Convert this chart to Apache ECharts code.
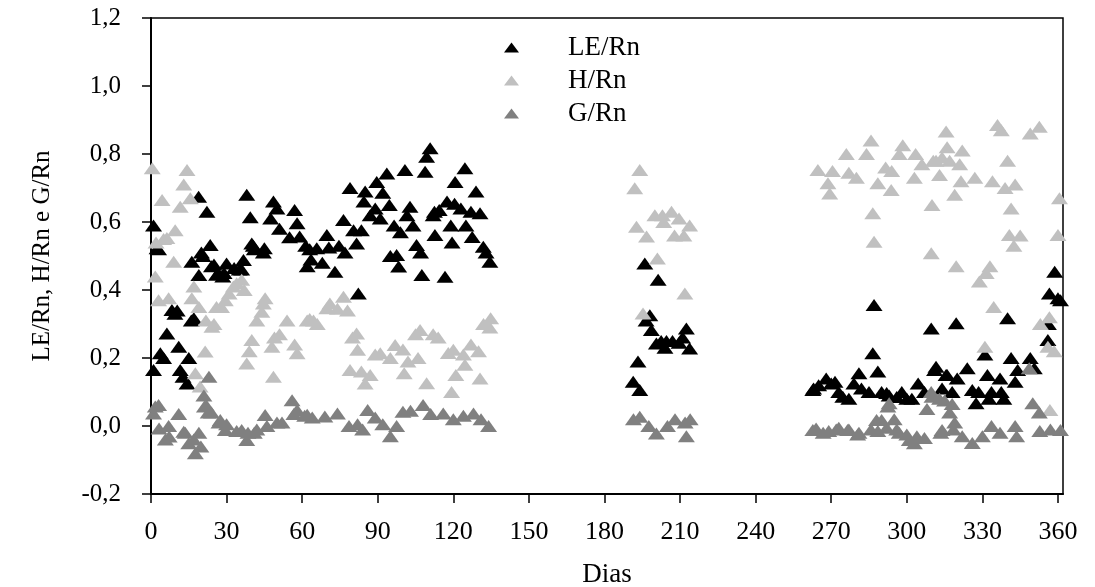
<!DOCTYPE html>
<html>
<head>
<meta charset="utf-8">
<script src="https://cdn.jsdelivr.net/npm/echarts@6/dist/echarts.min.js"></script>
<style>
  html, body { margin: 0; padding: 0; background: #fff; }
  #chart { width: 1095px; height: 587px; }
</style>
</head>
<body>
<div id="chart"></div>
<script>
// Daily energy partition ratios, [day of year, ratio]
const leRn = [
  [1,0.59],[1,0.165],[2.4,0.523],[3,0.52],[3.7,0.214],[5,0.2],[6.3,0.272],[8.3,0.341],[9.5,0.33],[10.4,0.34],
  [11,0.233],[11.6,0.165],[12.7,0.145],[14.3,0.125],[15,0.2],[16,0.31],[17,0.317],[16.2,0.483],[18.9,0.674],[19,0.444],
  [20,0.51],[20.6,0.5],[22.2,0.63],[23.5,0.532],[24,0.47],[25,0.475],[26,0.445],[26.7,0.45],[28.5,0.44],[29,0.45],
  [30,0.478],[33,0.465],[35,0.46],[36,0.46],[36.7,0.488],[38,0.68],[39.4,0.614],[40,0.537],[40.6,0.53],[41,0.52],
  [44.6,0.51],[45,0.523],[47.5,0.61],[48.6,0.66],[50,0.64],[51,0.58],[55,0.555],[57,0.635],[58,0.596],[59,0.557],
  [61.4,0.53],[62,0.47],[63,0.52],[63.5,0.49],[65.8,0.523],[68,0.48],[69.8,0.562],[70.6,0.525],[73,0.454],[74.6,0.53],
  [76.4,0.606],[77,0.51],[79,0.7],[80.4,0.576],[81.6,0.537],[82.3,0.39],[83.5,0.576],[84.5,0.66],[85,0.69],[87,0.62],
  [89,0.64],[89.6,0.718],[91,0.61],[92,0.686],[93.6,0.743],[94.6,0.65],[95,0.5],[96.5,0.59],[97.5,0.503],[98.3,0.469],
  [99,0.57],[100.8,0.753],[101.6,0.62],[102.8,0.645],[104,0.59],[105.4,0.532],[107,0.51],[107.5,0.444],[108.8,0.748],[109.4,0.792],
  [110.8,0.817],[112,0.62],[112.5,0.63],[112.7,0.562],[114.4,0.635],[116.7,0.439],[117.5,0.66],[119,0.59],[119.5,0.54],[120.7,0.718],
  [120.5,0.654],[123,0.64],[124.6,0.758],[125,0.59],[127,0.63],[127.5,0.556],[129,0.69],[130.6,0.626],[131.9,0.527],[133,0.51],
  [134.5,0.483],
  [191.4,0.13],[193.3,0.19],[194,0.106],[196,0.478],[196.5,0.31],[198,0.326],[198.6,0.282],[200.6,0.243],[201.3,0.43],[202.5,0.25],
  [204,0.23],[204.6,0.25],[207,0.25],[209.6,0.245],[211,0.26],[212.5,0.287],[213.8,0.228],
  [262.7,0.106],[263,0.11],[265,0.12],[268,0.14],[270,0.125],[271.5,0.13],[273,0.1],[274.6,0.086],[277,0.08],[279,0.125],
  [281,0.155],[282,0.11],[285,0.1],[286.5,0.214],[287,0.356],[288.5,0.16],[290,0.1],[292,0.097],[293,0.09],[296,0.085],
  [298,0.1],[300,0.08],[302,0.08],[304.5,0.125],[307,0.1],[309.7,0.287],[311,0.165],[311.6,0.174],[314,0.11],[315.6,0.15],
  [316,0.15],[318,0.1],[319.6,0.302],[320,0.14],[324,0.17],[326,0.106],[327.5,0.067],[328.5,0.1],[331,0.21],[332,0.15],
  [332.6,0.08],[333.6,0.1],[337,0.14],[337.5,0.1],[338.5,0.08],[340,0.317],[341.4,0.2],[343,0.13],[344,0.165],[349,0.2],
  [350.6,0.17],[356,0.253],[356.2,0.3],[356.6,0.39],[358.7,0.454],[360,0.376],[361,0.37]
];

const hRn = [
  [0.5,0.758],[1.7,0.44],[2,0.54],[3,0.37],[4.4,0.665],[5,0.55],[6.3,0.553],[7,0.376],[9,0.483],[9.6,0.576],
  [11.6,0.645],[13,0.71],[14.3,0.753],[15.6,0.67],[16.2,0.376],[17,0.41],[17.6,0.155],[19,0.35],[19.5,0.116],[21.5,0.219],
  [21.8,0.31],[24.2,0.292],[25,0.3],[26,0.35],[28,0.35],[29.5,0.37],[31,0.39],[32.7,0.41],[34,0.42],[36,0.43],
  [37,0.4],[38,0.184],[39,0.22],[40,0.253],[42,0.31],[44,0.336],[44.6,0.36],[45.3,0.376],[48,0.233],[48.6,0.145],
  [49,0.26],[51,0.27],[54,0.31],[57,0.24],[58,0.214],[62,0.31],[63,0.315],[64.5,0.31],[66,0.3],[69.8,0.346],
  [71,0.36],[74,0.345],[76.4,0.38],[78,0.34],[79,0.165],[80,0.26],[81.6,0.272],[82,0.224],[83.5,0.16],[85,0.125],
  [87,0.15],[89,0.21],[91,0.214],[95,0.2],[96.9,0.238],[100,0.225],[100.5,0.155],[102,0.19],[105,0.27],[106,0.2],
  [106.8,0.282],[109.4,0.126],[112,0.27],[114,0.26],[118,0.215],[119.3,0.1],[120,0.224],[121,0.15],[124,0.21],[124.6,0.18],
  [127,0.24],[130,0.22],[130.6,0.14],[132,0.3],[134.5,0.29],[134.8,0.317],
  [192,0.699],[192.7,0.586],[194,0.753],[195.3,0.331],[196.7,0.557],[200,0.62],[201,0.493],[203,0.62],[203.5,0.6],[206.6,0.63],
  [207.8,0.56],[209.6,0.61],[211.5,0.56],[211.9,0.39],[213.8,0.59],
  [264.7,0.753],[268.7,0.714],[269.4,0.684],[270.5,0.75],[276,0.8],[277,0.745],[280,0.73],[284,0.8],[285.8,0.84],[286.5,0.626],
  [287,0.542],[288.5,0.714],[291.6,0.76],[293.8,0.694],[294,0.75],[297,0.8],[298.4,0.826],[303,0.73],[303.5,0.8],[306,0.77],
  [309.7,0.508],[310,0.65],[310.5,0.78],[311.6,0.78],[313,0.738],[314,0.79],[315.6,0.866],[316,0.82],[317,0.78],[319,0.68],
  [319.6,0.47],[321,0.77],[321.5,0.72],[322,0.81],[327,0.73],[328.8,0.425],[331,0.233],[331.5,0.45],[333,0.47],[334,0.72],
  [334.5,0.35],[336,0.885],[337.5,0.87],[339,0.7],[340,0.78],[340.7,0.562],[341.4,0.64],[342.5,0.53],[343,0.71],[345,0.56],
  [349,0.86],[352.6,0.88],[353,0.3],[356,0.233],[356.6,0.32],[356.8,0.047],[358.5,0.22],[360,0.562],[360.6,0.67]
];

const gRn = [
  [1,0.037],[1.7,0.057],[3,0.062],[3.2,-0.007],[5.7,-0.04],[7,0.0],[7.2,-0.031],[11,0.035],[13,-0.017],[13.6,-0.02],
  [15,-0.051],[17,-0.04],[17.6,-0.08],[19,-0.02],[19.8,-0.06],[21,0.09],[21.2,0.057],[22,0.06],[22.7,0.04],[23,0.145],
  [24,0.04],[27,0.01],[27.5,0.018],[29.5,-0.012],[30,0.005],[34,-0.015],[36,-0.012],[38,-0.041],[38.5,-0.02],[41,-0.02],
  [42,-0.01],[45.3,0.032],[46,0.0],[50,0.01],[52,0.01],[56,0.076],[56.7,0.035],[58,0.047],[61,0.03],[62,0.033],
  [64,0.025],[69,0.028],[74,0.037],[78.6,0.0],[82,0.005],[84,-0.01],[86,0.047],[89,0.025],[92,0.005],[95,-0.03],
  [97.5,0.0],[100,0.042],[103,0.045],[108,0.062],[111,0.035],[116,0.037],[120,0.02],[124,0.03],[128,0.037],[131,0.02],
  [134,0.0],
  [191.5,0.02],[194,0.027],[197.6,0.0],[200.6,-0.022],[205,0.0],[208,0.02],[212,0.01],[212.5,-0.03],[214,0.02],
  [262.7,-0.012],[264,-0.007],[266.8,-0.02],[269,-0.015],[272,-0.01],[273,-0.005],[276.5,-0.012],[277,-0.01],[280.5,-0.025],[281,-0.02],
  [285.8,-0.01],[288,0.018],[288.5,-0.015],[290,0.018],[292,-0.005],[292.5,0.057],[293,0.067],[295,0.02],[296,-0.01],[297,-0.02],
  [300,-0.025],[301,-0.041],[303,-0.051],[304,-0.03],[307,-0.035],[308,0.05],[309.7,0.1],[310,0.086],[313,0.08],[313.5,-0.02],
  [314,-0.012],[315,0.075],[317,0.04],[318,0.065],[318.5,-0.01],[319,0.01],[322,-0.03],[326,-0.05],[330,-0.03],[333.6,0.0],
  [337,-0.02],[343,0.0],[343.6,-0.03],[348.6,0.17],[350,0.067],[352.6,0.04],[352.8,-0.015],[357,-0.01],[361,-0.012]
];

const seriesNames = ['LE/Rn', 'H/Rn', 'G/Rn'];
const seriesColors = ['#000000', '#c0c0c0', '#808080'];
const xTicks = [0, 30, 60, 90, 120, 150, 180, 210, 240, 270, 300, 330, 360];

const FONT = "'Liberation Serif', 'Times New Roman', serif";
const chart = echarts.init(document.getElementById('chart'));

const makeSeries = (name, data, color) => ({
  name: name,
  type: 'scatter',
  data: data,
  symbol: 'triangle',
  symbolSize: [17, 12],
  itemStyle: { color: color, opacity: 1 },
  emphasis: { disabled: true },
  clip: false
});

chart.setOption({
  animation: false,
  backgroundColor: '#fff',
  textStyle: { fontFamily: FONT, color: '#000' },
  grid: {
    left: 151, right: 32, top: 18, bottom: 93,
    outerBoundsMode: 'none',
    containLabel: false,
    show: true, borderColor: '#000', borderWidth: 1.5, backgroundColor: 'transparent'
  },
  legend: {
    orient: 'vertical',
    left: 499, top: 29,
    itemWidth: 15, itemHeight: 10, itemGap: 6,
    icon: 'triangle',
    data: seriesNames,
    textStyle: {
      fontFamily: FONT, fontSize: 27, color: '#000',
      lineHeight: 27, padding: [0, 0, 0, 44]
    }
  },
  xAxis: {
    type: 'value',
    min: 0, max: 362,
    name: 'Dias',
    nameLocation: 'middle',
    nameGap: 67,
    nameTextStyle: { fontFamily: FONT, fontSize: 27, color: '#000' },
    axisLine: { show: true, onZero: false, lineStyle: { color: '#000', width: 2 } },
    axisTick: { show: true, inside: false, length: 9, customValues: xTicks, lineStyle: { color: '#000', width: 1.5 } },
    axisLabel: { customValues: xTicks, margin: 25, fontFamily: FONT, fontSize: 26, color: '#000' },
    splitLine: { show: false }
  },
  yAxis: {
    type: 'value',
    min: -0.2, max: 1.2, interval: 0.2,
    name: 'LE/Rn, H/Rn e G/Rn',
    nameLocation: 'middle',
    nameGap: 96,
    nameTextStyle: { fontFamily: FONT, fontSize: 25, color: '#000' },
    axisLine: { show: true, onZero: false, lineStyle: { color: '#000', width: 2 } },
    axisTick: { show: true, inside: false, length: 9, lineStyle: { color: '#000', width: 1.5 } },
    axisLabel: {
      margin: 30, fontFamily: FONT, fontSize: 25, color: '#000',
      formatter: v => (Math.round(v * 10) / 10).toFixed(1).replace('.', ',')
    },
    splitLine: { show: false }
  },
  series: [
    makeSeries(seriesNames[0], leRn, seriesColors[0]),
    makeSeries(seriesNames[1], hRn, seriesColors[1]),
    makeSeries(seriesNames[2], gRn, seriesColors[2])
  ]
});
</script>
</body>
</html>
